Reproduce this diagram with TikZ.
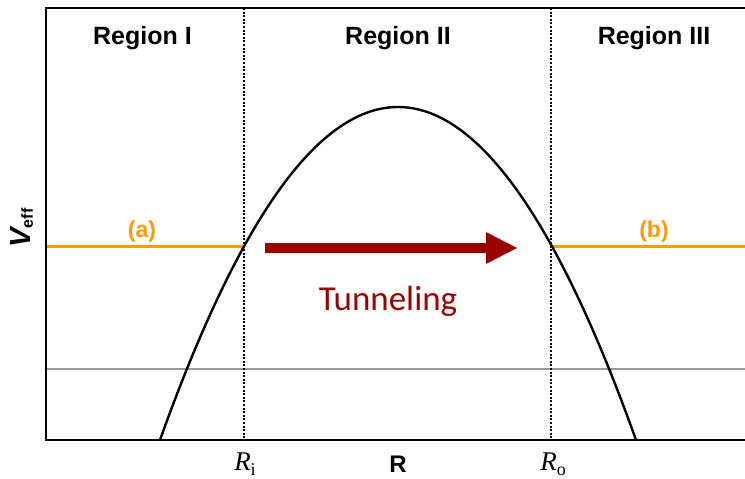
\documentclass[tikz,border=0pt]{standalone}
\usepackage{fontspec}
\newfontfamily\arialf{Liberation Sans}
\newfontfamily\timesf{Liberation Serif}
\newfontfamily\calibrif{Carlito}
\definecolor{orng}{HTML}{FF9900}
\definecolor{dred}{HTML}{990000}
\definecolor{gline}{HTML}{999999}
\newcommand{\radlabel}[1]{{\itshape R}{\fontsize{18}{20}\selectfont\raisebox{-5pt}{#1}}}
\tikzset{
  regionlabel/.style={font=\arialf\bfseries\fontsize{25}{30}\selectfont, anchor=base, inner sep=0pt},
  statelabel/.style={font=\arialf\bfseries\fontsize{23}{28}\selectfont, text=orng, inner sep=0pt},
  axislabel/.style={font=\timesf\fontsize{27}{32}\selectfont, anchor=base, inner sep=0pt},
  frameline/.style={line width=2.6pt, black},
  dotline/.style={line width=1.1pt, dash pattern=on 2pt off 1.6pt},
  levelline/.style={line width=3pt, orng},
}
\begin{document}
\begin{tikzpicture}[x=1pt,y=-1pt]
\useasboundingbox (0,0) rectangle (745,479);
% key coordinates
\coordinate (tl) at (46,8);
\coordinate (tr) at (745,8);
\coordinate (bl) at (46,440);
\coordinate (br) at (745,440);
\coordinate (ri) at (244,246);
\coordinate (ro) at (551,246);
\coordinate (ritop) at (244,8);
\coordinate (ribot) at (244,440);
\coordinate (rotop) at (551,8);
\coordinate (robot) at (551,440);
\coordinate (la) at (46,246);
\coordinate (lb) at (745,246);
\coordinate (gl) at (46,369);
\coordinate (gr) at (745,369);
\coordinate (cstart) at (160,440);
\coordinate (cend) at (636,440);
% grey line
\draw[gline, line width=1.2pt] (gl) -- (gr);
% dotted boundaries
\draw[dotline] (ritop) -- (ribot);
\draw[dotline] (rotop) -- (robot);
% energy levels
\draw[levelline] (la) -- (ri);
\draw[levelline] (ro) -- (lb);
% barrier
\draw[line width=2.4pt] (cstart) .. controls (318.67,-4) and (477.33,-4) .. (cend);
% frame
\draw[frameline] (tr) -- (tl) -- (bl) -- (br);
% tunneling arrow
\fill[dred] (265,243) -- (486,243) -- (486,232) -- (517,248) -- (486,264) -- (486,253) -- (265,253) -- cycle;
% labels
\node[regionlabel] (r1) at (142.5,45) {Region I};
\node[regionlabel] (r2) at (398,45) {Region II};
\node[regionlabel] (r3) at (654,45) {Region III};
\node[statelabel] (a) at (142,232) {(a)};
\node[statelabel] (b) at (654,232) {(b)};
\node[font=\calibrif\fontsize{35}{40}\selectfont, text=dred, anchor=base, inner sep=0pt] (tun) at (388,310) {Tunneling};
\node[axislabel] (rilab) at (245,470) {\radlabel{i}};
\node[axislabel, font=\arialf\bfseries\fontsize{24}{28}\selectfont] (rlab) at (398,472) {R};
\node[axislabel] (rolab) at (553,470) {\radlabel{o}};
\node[rotate=90, inner sep=0pt] (veff) at (22,228) {{\arialf\bfseries\itshape\fontsize{29}{32}\selectfont V}{\arialf\bfseries\fontsize{16}{18}\selectfont\raisebox{-2pt}{eff}}};
\end{tikzpicture}
\end{document}
